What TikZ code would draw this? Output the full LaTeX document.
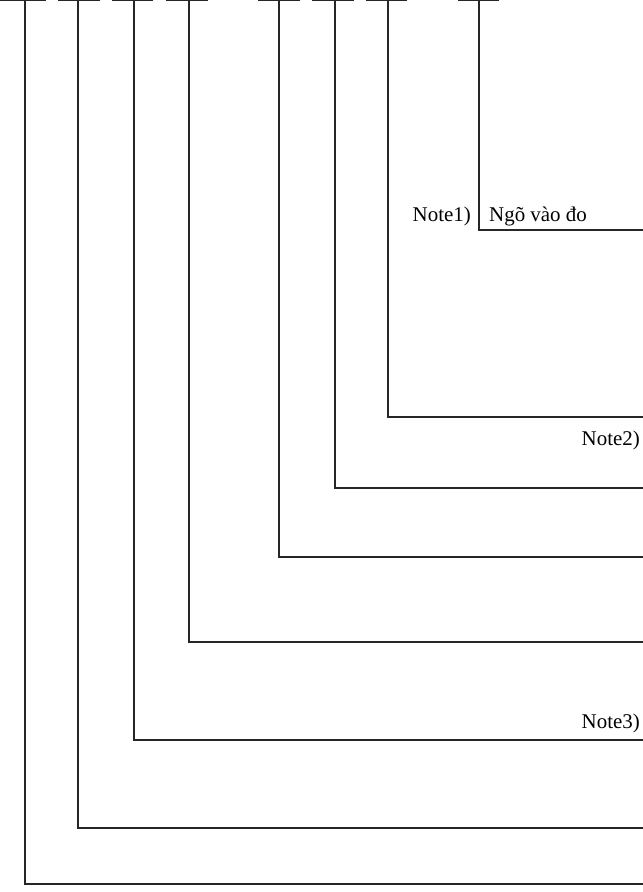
\documentclass[tikz,border=0pt]{standalone}
\usepackage{fontspec}
\setmainfont{Liberation Serif}
\begin{document}
\begin{tikzpicture}[x=1bp,y=-1bp,
  wire/.style={line width=1.2bp,black!85},
  lbl/.style={inner sep=0pt,font=\fontsize{21}{25}\selectfont}]
\useasboundingbox (0,0) rectangle (643,892);
\foreach \n/\l/\r/\v/\h in {a/0/46/25/884, b/58/100/78/828, c/112/153/134/740, d/166/208/189/642, e/258/300/279/557, f/312/354/335/488, g/366/407/388/417, h/458/499/479/230}{
  \coordinate (\n L) at (\l,0.6);
  \coordinate (\n R) at (\r,0.6);
  \coordinate (\n T) at (\v,0.6);
  \coordinate (\n C) at (\v,\h);
  \coordinate (\n E) at (643,\h);
  \draw[wire] (\n L) -- (\n R);
  \draw[wire] (\n T) -- (\n C) -- (\n E);
}
\node[lbl,anchor=base east] (n1) at (471,221) {Note1)};
\node[lbl,anchor=base west] (in) at (489,221) {Ngõ vào đo};
\node[lbl,anchor=base east] (n2) at (640,445) {Note2)};
\node[lbl,anchor=base east] (n3) at (640,728) {Note3)};
\end{tikzpicture}
\end{document}
